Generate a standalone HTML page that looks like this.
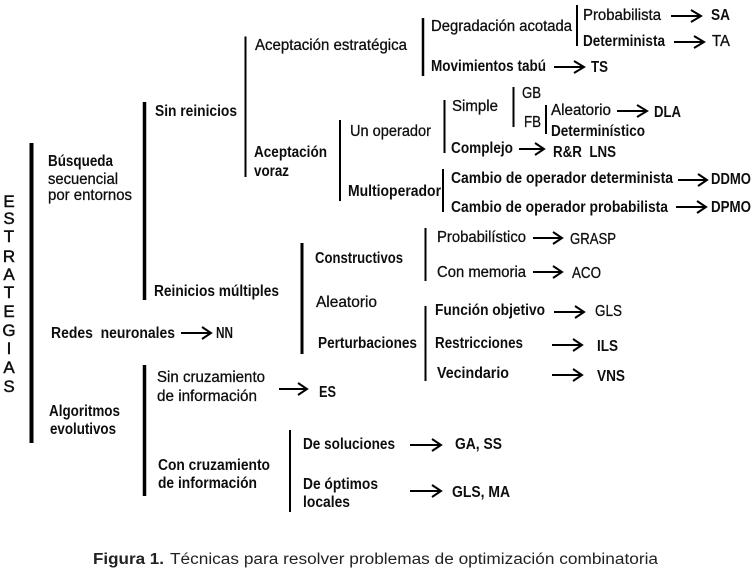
<!DOCTYPE html>
<html><head><meta charset="utf-8"><style>
html,body{margin:0;padding:0;background:#fff;width:756px;height:575px;overflow:hidden}
svg{display:block}
text{font-family:"Liberation Sans",Arial,sans-serif;font-size:16px;fill:#111;white-space:pre}
.b{font-weight:bold}
.m{stroke:#111;stroke-width:.3}
.c{font-size:15.5px;fill:#222}
.v{text-anchor:middle;stroke:#111;stroke-width:.45;font-size:17px}
line.k{stroke:#000}
path{fill:none;stroke:#000;stroke-width:2}
</style></head><body>
<svg width="756" height="575" viewBox="0 0 756 575" xmlns="http://www.w3.org/2000/svg">
<defs><filter id="s" x="0" y="0" width="100%" height="100%"><feGaussianBlur stdDeviation="0.3"/></filter></defs>
<g filter="url(#s)">
<!-- brackets -->
<line class="k" x1="31.5" y1="143" x2="31.5" y2="443" stroke-width="4"/>
<line class="k" x1="144.5" y1="102" x2="144.5" y2="300" stroke-width="3.5"/>
<line class="k" x1="144.5" y1="365" x2="144.5" y2="496" stroke-width="3.5"/>
<line class="k" x1="245.5" y1="36.5" x2="245.5" y2="177" stroke-width="2"/>
<line class="k" x1="340" y1="120" x2="340" y2="201" stroke-width="2"/>
<line class="k" x1="302" y1="243" x2="302" y2="354" stroke-width="3"/>
<line class="k" x1="423" y1="18" x2="423" y2="76" stroke-width="2.5"/>
<line class="k" x1="577" y1="5" x2="577" y2="46" stroke-width="2"/>
<line class="k" x1="444.5" y1="100" x2="444.5" y2="153" stroke-width="2"/>
<line class="k" x1="513.5" y1="87" x2="513.5" y2="127" stroke-width="2"/>
<line class="k" x1="546" y1="105" x2="546" y2="134" stroke-width="2"/>
<line class="k" x1="443" y1="169" x2="443" y2="212" stroke-width="2"/>
<line class="k" x1="425.5" y1="228" x2="425.5" y2="281" stroke-width="2"/>
<line class="k" x1="425.5" y1="306" x2="425.5" y2="381" stroke-width="2"/>
<line class="k" x1="290" y1="430" x2="290" y2="512" stroke-width="2"/>
<!-- arrows -->
<path d="M671 16H700M691 10L701 16L691 22"/>
<path d="M674 42H703M694 36L704 42L694 48"/>
<path d="M554 67H583M574 61L584 67L574 73"/>
<path d="M617 111H646M637 105L647 111L637 117"/>
<path d="M519 149H543M535 143L544 149L535 155"/>
<path d="M678 180H706M698 174L707 180L698 186"/>
<path d="M676 207H705M697 201L706 207L697 213"/>
<path d="M533 238H561M553 232L562 238L553 244"/>
<path d="M533 272H561M553 266L562 272L553 278"/>
<path d="M554 312H583M575 306L584 312L575 318"/>
<path d="M552 345H581M573 339L582 345L573 351"/>
<path d="M552 375H581M573 369L582 375L573 381"/>
<path d="M181 333H210M202 327L211 333L202 339"/>
<path d="M279 389H306M298 383L307 389L298 395"/>
<path d="M410 445H440M432 439L441 445L432 451"/>
<path d="M410 491H440M432 485L441 491L432 497"/>
<!-- vertical word -->
<text class="v" x="9" y="207">E</text>
<text class="v" x="9" y="224">S</text>
<text class="v" x="9" y="242">T</text>
<text class="v" x="9" y="262">R</text>
<text class="v" x="9" y="280">A</text>
<text class="v" x="9" y="298">T</text>
<text class="v" x="9" y="317">E</text>
<text class="v" x="9" y="336">G</text>
<text class="v" x="9" y="354">I</text>
<text class="v" x="9" y="373">A</text>
<text class="v" x="9" y="392">S</text>
<!-- labels -->
<text class="m" x="255" y="50" textLength="152" lengthAdjust="spacingAndGlyphs">Aceptación estratégica</text>
<text class="b" x="155" y="116" textLength="82" lengthAdjust="spacingAndGlyphs">Sin reinicios</text>
<text class="b" x="254" y="157" textLength="73" lengthAdjust="spacingAndGlyphs">Aceptación</text>
<text class="b" x="254" y="176" textLength="35" lengthAdjust="spacingAndGlyphs">voraz</text>
<text class="b" x="48" y="166" textLength="65" lengthAdjust="spacingAndGlyphs">Búsqueda</text>
<text class="m" x="48" y="184" textLength="70" lengthAdjust="spacingAndGlyphs">secuencial</text>
<text class="m" x="48" y="200" textLength="84" lengthAdjust="spacingAndGlyphs">por entornos</text>
<text class="b" x="154" y="296" textLength="125" lengthAdjust="spacingAndGlyphs">Reinicios múltiples</text>
<text class="b" x="51" y="338" textLength="124" lengthAdjust="spacingAndGlyphs">Redes  neuronales</text>
<text class="b" x="216" y="338" textLength="17" lengthAdjust="spacingAndGlyphs">NN</text>
<text class="m" x="157" y="382" textLength="108" lengthAdjust="spacingAndGlyphs">Sin cruzamiento</text>
<text class="m" x="157" y="401" textLength="100" lengthAdjust="spacingAndGlyphs">de información</text>
<text class="b" x="319" y="397" textLength="17" lengthAdjust="spacingAndGlyphs">ES</text>
<text class="b" x="49" y="416" textLength="71" lengthAdjust="spacingAndGlyphs">Algoritmos</text>
<text class="b" x="50" y="434" textLength="66" lengthAdjust="spacingAndGlyphs">evolutivos</text>
<text class="b" x="158" y="470" textLength="112" lengthAdjust="spacingAndGlyphs">Con cruzamiento</text>
<text class="b" x="158" y="488" textLength="99" lengthAdjust="spacingAndGlyphs">de información</text>
<text class="b" x="303" y="449" textLength="92" lengthAdjust="spacingAndGlyphs">De soluciones</text>
<text class="b" x="455" y="449" textLength="47" lengthAdjust="spacingAndGlyphs">GA, SS</text>
<text class="b" x="303" y="489" textLength="75" lengthAdjust="spacingAndGlyphs">De óptimos</text>
<text class="b" x="303" y="507" textLength="47" lengthAdjust="spacingAndGlyphs">locales</text>
<text class="b" x="452" y="497" textLength="58" lengthAdjust="spacingAndGlyphs">GLS, MA</text>
<text class="b" x="315" y="263" textLength="88" lengthAdjust="spacingAndGlyphs">Constructivos</text>
<text class="m" x="316" y="307" textLength="61" lengthAdjust="spacingAndGlyphs">Aleatorio</text>
<text class="b" x="318" y="348" textLength="99" lengthAdjust="spacingAndGlyphs">Perturbaciones</text>
<text class="b" x="435" y="315" textLength="110" lengthAdjust="spacingAndGlyphs">Función objetivo</text>
<text class="m" x="595" y="316" textLength="27" lengthAdjust="spacingAndGlyphs">GLS</text>
<text class="b" x="435" y="348" textLength="88" lengthAdjust="spacingAndGlyphs">Restricciones</text>
<text class="b" x="597" y="351" textLength="21" lengthAdjust="spacingAndGlyphs">ILS</text>
<text class="b" x="437" y="378" textLength="72" lengthAdjust="spacingAndGlyphs">Vecindario</text>
<text class="b" x="597" y="381" textLength="28" lengthAdjust="spacingAndGlyphs">VNS</text>
<text class="m" x="437" y="242" textLength="89" lengthAdjust="spacingAndGlyphs">Probabilístico</text>
<text class="m" x="570" y="244" textLength="46" lengthAdjust="spacingAndGlyphs">GRASP</text>
<text class="m" x="437" y="277" textLength="89" lengthAdjust="spacingAndGlyphs">Con memoria</text>
<text class="m" x="572" y="278" textLength="29" lengthAdjust="spacingAndGlyphs">ACO</text>
<text class="m" x="350" y="136" textLength="81" lengthAdjust="spacingAndGlyphs">Un operador</text>
<text class="b" x="348" y="196" textLength="93" lengthAdjust="spacingAndGlyphs">Multioperador</text>
<text class="b" x="451" y="183" textLength="222" lengthAdjust="spacingAndGlyphs">Cambio de operador determinista</text>
<text class="b" x="711" y="184" textLength="40" lengthAdjust="spacingAndGlyphs">DDMO</text>
<text class="b" x="451" y="212" textLength="217" lengthAdjust="spacingAndGlyphs">Cambio de operador probabilista</text>
<text class="b" x="711" y="212" textLength="40" lengthAdjust="spacingAndGlyphs">DPMO</text>
<text class="m" x="452" y="111" textLength="46" lengthAdjust="spacingAndGlyphs">Simple</text>
<text class="m" x="522" y="98" textLength="19" lengthAdjust="spacingAndGlyphs">GB</text>
<text class="m" x="524" y="127" textLength="17" lengthAdjust="spacingAndGlyphs">FB</text>
<text class="m" x="551" y="115" textLength="60" lengthAdjust="spacingAndGlyphs">Aleatorio</text>
<text class="b" x="654" y="117" textLength="27" lengthAdjust="spacingAndGlyphs">DLA</text>
<text class="b" x="551" y="136" textLength="94" lengthAdjust="spacingAndGlyphs">Determinístico</text>
<text class="b" x="451" y="153" textLength="62" lengthAdjust="spacingAndGlyphs">Complejo</text>
<text class="b" x="553" y="157" textLength="63" lengthAdjust="spacingAndGlyphs">R&amp;R  LNS</text>
<text class="m" x="431" y="31" textLength="141" lengthAdjust="spacingAndGlyphs">Degradación acotada</text>
<text class="m" x="583" y="20" textLength="78" lengthAdjust="spacingAndGlyphs">Probabilista</text>
<text class="b" x="711" y="20" textLength="19" lengthAdjust="spacingAndGlyphs">SA</text>
<text class="b" x="583" y="46" textLength="82" lengthAdjust="spacingAndGlyphs">Determinista</text>
<text class="m" x="712" y="46" textLength="18" lengthAdjust="spacingAndGlyphs">TA</text>
<text class="b" x="431" y="71" textLength="115" lengthAdjust="spacingAndGlyphs">Movimientos tabú</text>
<text class="b" x="591" y="72" textLength="17" lengthAdjust="spacingAndGlyphs">TS</text>
</g>
<!-- caption -->
<text class="c b" x="93" y="564" textLength="71" lengthAdjust="spacingAndGlyphs">Figura 1.</text>
<text class="c" x="170" y="564" textLength="488" lengthAdjust="spacingAndGlyphs">Técnicas para resolver problemas de optimización combinatoria</text>
</svg>
</body></html>
